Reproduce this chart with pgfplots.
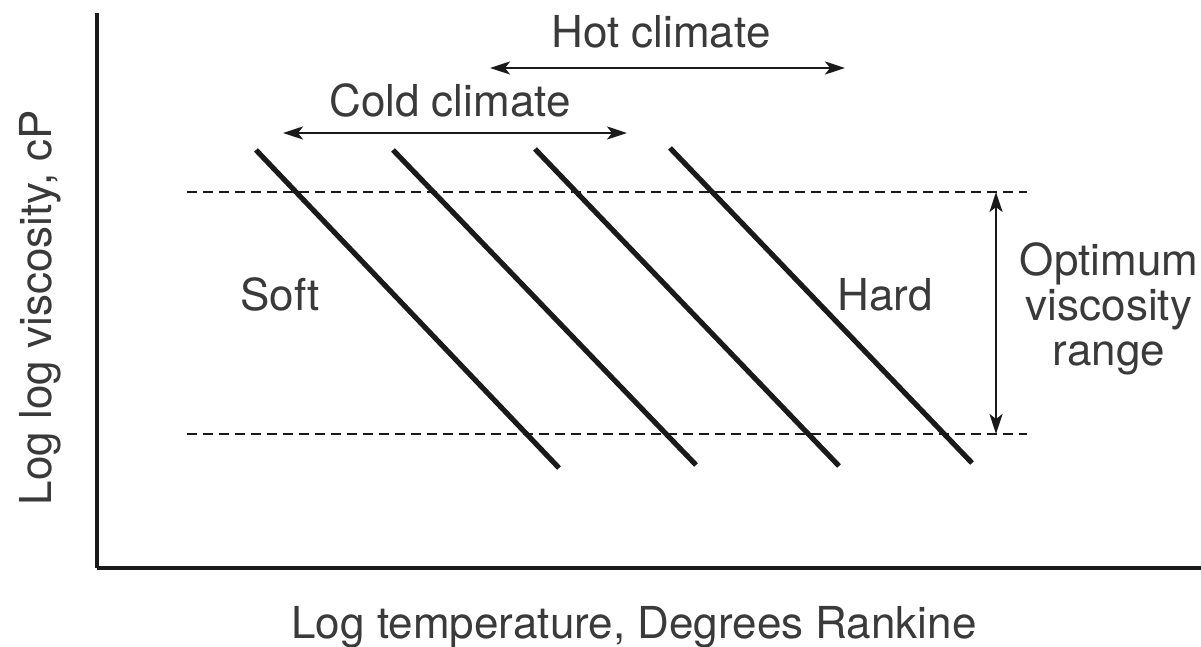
\documentclass[border=0pt]{standalone}
\usepackage{fontspec}
\setmainfont{TeX Gyre Heros}
\usepackage{pgfplots}
\pgfplotsset{compat=1.18}
\usetikzlibrary{arrows.meta}
\definecolor{ink}{HTML}{1A1A1A}
\definecolor{txt}{HTML}{3A3A3A}
\tikzset{lbl/.style={font=\fontsize{22}{22.5}\selectfont, text=txt, inner sep=0pt}}
\begin{document}
\begin{tikzpicture}
\begin{axis}[
  scale only axis,
  width=552pt, height=277.5pt,
  xmin=97, xmax=1201, ymin=78, ymax=633,
  axis x line=bottom, axis y line=left,
  axis line style={-, line width=2pt, color=ink},
  xtick=\empty, ytick=\empty,
  clip=false,
]
% viscosity grade lines (pixel coords, y flipped)
\addplot[ink, line width=2.6pt] coordinates {(256,496) (559,178)};
\addplot[ink, line width=2.6pt] coordinates {(393,496) (696,181)};
\addplot[ink, line width=2.6pt] coordinates {(535,497) (839,180)};
\addplot[ink, line width=2.6pt] coordinates {(670,498) (972,183)};
% optimum range dashed limits
\addplot[ink, line width=1pt, dash pattern=on 5pt off 3pt] coordinates {(187,454) (1027,454)};
\addplot[ink, line width=1pt, dash pattern=on 5pt off 3pt] coordinates {(187,212) (1027,212)};
% arrows
\addplot[ink, line width=1.1pt, {Stealth[length=10pt,width=6.5pt,inset=2.5pt]}-{Stealth[length=10pt,width=6.5pt,inset=2.5pt]}] coordinates {(996,454) (996,212)};
\addplot[ink, line width=1.1pt, {Stealth[length=10pt,width=6.5pt,inset=2.5pt]}-{Stealth[length=10pt,width=6.5pt,inset=2.5pt]}] coordinates {(490,578) (845,578)};
\addplot[ink, line width=1.1pt, {Stealth[length=10pt,width=6.5pt,inset=2.5pt]}-{Stealth[length=10pt,width=6.5pt,inset=2.5pt]}] coordinates {(283,513) (627,513)};
% texts
\node[lbl, anchor=base] at (axis cs:661,598) {Hot climate};
\node[lbl, anchor=base] at (axis cs:450,529) {Cold climate};
\node[lbl, anchor=base] at (axis cs:280,336) {Soft};
\node[lbl, anchor=base] at (axis cs:885,336) {Hard};
\node[lbl, anchor=base] at (axis cs:1109,371) {Optimum};
\node[lbl, anchor=base] at (axis cs:1109,326) {viscosity};
\node[lbl, anchor=base] at (axis cs:1109,281) {range};
\node[lbl, anchor=base] at (axis cs:634,8) {Log temperature, Degrees Rankine};
\node[lbl, anchor=base, rotate=90] at (axis cs:52,338.5) {Log log viscosity, cP};
\coordinate (bl) at (axis cs:0,0);
\coordinate (tr) at (axis cs:1201,646);
\end{axis}
\pgfresetboundingbox
\path[use as bounding box] (bl) rectangle (tr);
\end{tikzpicture}
\end{document}
